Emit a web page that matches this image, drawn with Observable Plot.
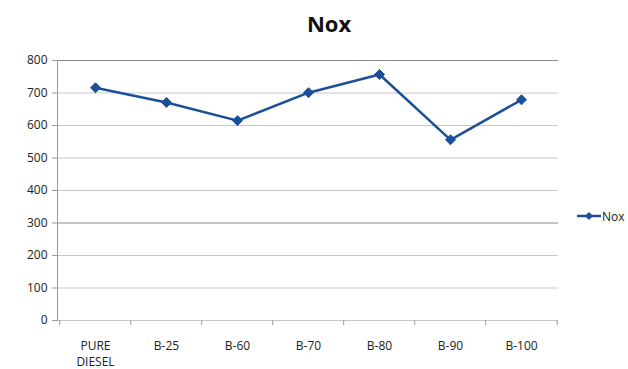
<!DOCTYPE html>
<html>
<head>
<meta charset="utf-8">
<script src="https://cdn.jsdelivr.net/npm/d3@7"></script>
<script src="https://cdn.jsdelivr.net/npm/@observablehq/plot@0.6"></script>
<style>
  html, body { margin: 0; padding: 0; background: #fff; overflow: hidden; }
  #wrap { position: relative; width: 628px; height: 369px; font-family: "Open Sans", sans-serif; }
  #title { position: absolute; left: 0; width: 658px; top: 8px; text-align: center;
           font-weight: bold; font-size: 22px; color: #111; }
  #legend { position: absolute; left: 576px; top: 206px; width: 52px;
            white-space: nowrap; font-size: 12px; color: #222; display: flex; align-items: center; }
  #legend svg { flex: none; }
</style>
</head>
<body>
<div id="wrap">
  <div id="title">Nox</div>
  <div id="chart"></div>
  <div id="legend"></div>
</div>
<script>
// NOx emissions for each fuel blend
const blends = ["PURE DIESEL", "B-25", "B-60", "B-70", "B-80", "B-90", "B-100"];
const nox = [716, 671, 615, 701, 757, 556, 679];
const yTicks = [0, 100, 200, 300, 400, 500, 600, 700, 800];
const seriesName = "Nox";

const data = blends.map((b, i) => ({blend: b, value: nox[i]}));

const W = 628, H = 369;
const mL = 57, mR = 70, mT = 60, mB = 49;
const step = (W - mL - mR) / blends.length;
const blue = "#1b4f9a";

const chart = Plot.plot({
  width: W,
  height: H,
  marginLeft: mL,
  marginRight: mR,
  marginTop: mT,
  marginBottom: mB,
  style: {fontFamily: "'Open Sans', sans-serif", fontSize: "12px", color: "#333", background: "transparent"},
  x: {type: "point", domain: blends, padding: 0.5, label: null},
  y: {domain: [0, 800], ticks: yTicks, label: null},
  marks: [
    // horizontal gridlines
    Plot.ruleY(yTicks.filter(t => t !== 300 && t !== 800), {stroke: "#c8c8c8", strokeWidth: 1}),
    Plot.ruleY([300, 800], {stroke: "#8a8a8a", strokeWidth: 1}),
    // y axis line
    Plot.frame({anchor: "left", stroke: "#9a9a9a"}),
    // category boundary ticks under the baseline
    Plot.ruleX(blends, {x: d => d, dx: -step / 2, y1: 0, y2: -16, stroke: "#9a9a9a"}),
    Plot.ruleX(blends.slice(-1), {x: d => d, dx: step / 2, y1: 0, y2: -16, stroke: "#9a9a9a"}),
    Plot.axisY({ticks: yTicks, tickSize: 5, tickPadding: 5, stroke: "#9a9a9a", fill: "#222", label: null}),
    Plot.axisX({tickSize: 0, tickPadding: 18, fill: "#222", label: null,
                tickFormat: d => d.replace(" ", "\n"), lineHeight: 1.35}),
    // series line with diamond markers
    Plot.line(data, {x: "blend", y: "value", stroke: blue, strokeWidth: 2.5, curve: "linear"}),
    Plot.dot(data, {x: "blend", y: "value", symbol: "diamond2", r: 4.5, fill: blue, stroke: blue, strokeWidth: 1})
  ]
});
document.getElementById("chart").appendChild(chart);

// legend entry
const leg = d3.select("#legend");
const ls = leg.append("svg").attr("width", 26).attr("height", 20);
ls.append("line").attr("x1", 1).attr("x2", 25).attr("y1", 10).attr("y2", 10)
  .attr("stroke", blue).attr("stroke-width", 2.5);
ls.append("path").attr("d", d3.symbol(d3.symbolDiamond2, 40)()).attr("transform", "translate(13,10)")
  .attr("fill", blue);
leg.append("span").text(seriesName);
</script>
</body>
</html>
